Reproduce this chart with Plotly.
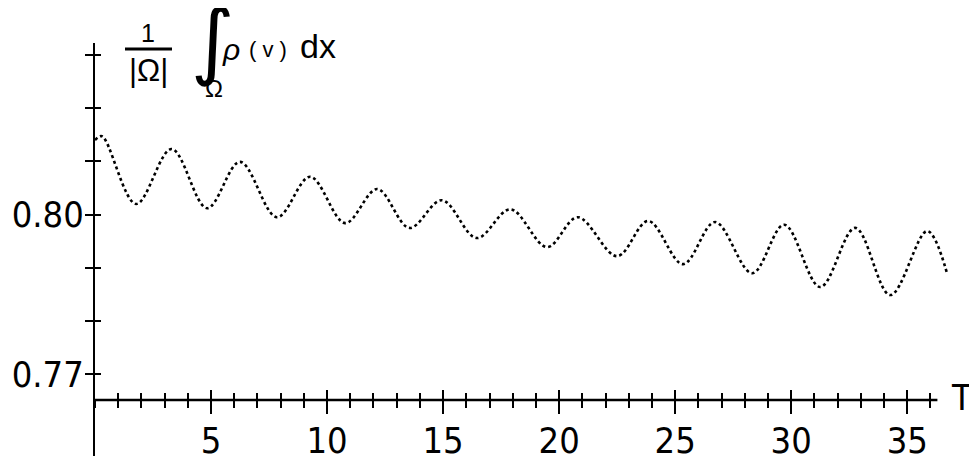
import plotly.graph_objects as go

# ---- data ----
t_values = [0.0, 0.3, 1.77, 3.3, 4.83, 6.25, 7.84, 9.27, 10.78, 12.16, 13.55, 14.95,
            16.45, 17.9, 19.48, 20.8, 22.5, 23.84, 25.34, 26.72, 28.32, 29.7, 31.25,
            32.76, 34.27, 35.86, 36.72]
rho_mean = [0.8140, 0.8147, 0.8020, 0.8123, 0.8012, 0.8099, 0.7995, 0.8071, 0.7984,
            0.8048, 0.7975, 0.8027, 0.7956, 0.8010, 0.7939, 0.7995, 0.7922, 0.7988,
            0.7907, 0.7986, 0.7890, 0.7981, 0.7864, 0.7975, 0.7849, 0.7969, 0.7889]

y_tick_vals = [0.77, 0.78, 0.79, 0.80, 0.81, 0.82, 0.83]
y_tick_text = ["0.77", "", "", "0.80", "", "", ""]
x_tick_vals = [5, 10, 15, 20, 25, 30, 35]
x_tick_text = ["5", "10", "15", "20", "25", "30", "35"]

# ---- layout geometry (page has an 8px body offset) ----
OFF = 8
W, H = 977, 462
PLOT_L, PLOT_R, PLOT_T, PLOT_B = 95, 949, 43, 456   # wanted positions on screen
L = PLOT_L - OFF
T = PLOT_T - OFF
R = W - (PLOT_R - OFF)
B = H - (PLOT_B - OFF)
X_RANGE = [0, 36.8]
Y_RANGE = [0.7547, 0.8322]
XAXIS_POS = (PLOT_B - 400) / (PLOT_B - PLOT_T)
AXIS_END = 36.3

NARROW = "Liberation Sans Narrow, DejaVu Sans Condensed, Arial Narrow, Liberation Sans, sans-serif"
SANS = "Liberation Sans, Arial, sans-serif"

def PX(x):
    return (x - PLOT_L) / (PLOT_R - PLOT_L)

def PY(y):
    return (PLOT_B - y) / (PLOT_B - PLOT_T)

fig = go.Figure()
fig.add_trace(go.Scatter(
    x=t_values, y=rho_mean, mode="lines",
    line=dict(color="black", width=2.6, dash="dot", shape="spline", smoothing=1.0),
    showlegend=False, hoverinfo="skip",
))
# invisible helper trace so that the overlay axes (crossing ticks) are drawn
fig.add_trace(go.Scatter(x=[t_values[0]], y=[rho_mean[0]], xaxis="x2", yaxis="y2",
                         mode="markers", marker=dict(opacity=0), showlegend=False,
                         hoverinfo="skip"))

tickfont = dict(family=NARROW, size=36, color="black")

fig.update_layout(
    width=W, height=H, autosize=False,
    margin=dict(l=L, r=R, t=T, b=B, pad=0),
    paper_bgcolor="white", plot_bgcolor="white",
    xaxis=dict(
        range=X_RANGE, anchor="free", position=XAXIS_POS, automargin=False,
        showline=False, showgrid=False, zeroline=False,
        tickmode="array", tickvals=x_tick_vals, ticktext=x_tick_text,
        ticks="outside", ticklen=13, tickwidth=2, tickcolor="black",
        ticklabelstandoff=-4,
        minor=dict(tickmode="linear", tick0=0, dtick=1, ticks="outside",
                   ticklen=7, tickwidth=2, tickcolor="black", showgrid=False),
        tickfont=tickfont,
    ),
    xaxis2=dict(
        range=X_RANGE, overlaying="x", anchor="free", position=XAXIS_POS, automargin=False,
        showline=False, showgrid=False, zeroline=False,
        tickmode="array", tickvals=x_tick_vals, showticklabels=False,
        ticks="inside", ticklen=10, tickwidth=2, tickcolor="black",
        minor=dict(tickmode="linear", tick0=0, dtick=1, ticks="inside",
                   ticklen=7, tickwidth=2, tickcolor="black", showgrid=False),
    ),
    yaxis=dict(
        range=Y_RANGE, anchor="x", side="left", automargin=False,
        showline=True, linewidth=2, linecolor="black",
        showgrid=False, zeroline=False,
        tickmode="array", tickvals=y_tick_vals, ticktext=y_tick_text,
        ticks="outside", ticklen=8, tickwidth=2, tickcolor="black",
        ticklabelstandoff=-6,
        tickfont=tickfont,
    ),
    yaxis2=dict(
        range=Y_RANGE, overlaying="y", anchor="x2", side="left", automargin=False,
        showline=False, showgrid=False, zeroline=False,
        tickmode="array", tickvals=y_tick_vals, showticklabels=False,
        ticks="inside", ticklen=6, tickwidth=2, tickcolor="black",
    ),
)

# x-axis line
fig.add_shape(type="line", xref="x", yref="paper", x0=0, x1=AXIS_END,
              y0=XAXIS_POS, y1=XAXIS_POS, line=dict(color="black", width=2.5))

# axis label T
fig.add_annotation(text="T", xref="paper", yref="paper", x=PX(961), y=PY(397),
                   xanchor="center", yanchor="middle", showarrow=False,
                   font=dict(family=NARROW, size=36, color="black"))

# y-axis label: (1/|Ω|) ∫_Ω ρ(v) dx
def ann(text, x, y, size, family=SANS, **kw):
    fig.add_annotation(text=text, xref="paper", yref="paper", x=PX(x), y=PY(y),
                       xanchor="center", yanchor="middle", showarrow=False,
                       font=dict(family=family, size=size, color="black", **kw))

ann("1", 148, 33, 25)
fig.add_shape(type="line", xref="paper", yref="paper", x0=PX(125), x1=PX(172),
              y0=PY(49), y1=PY(49), line=dict(color="black", width=3))
ann("|Ω|", 148, 70, 31)
ann("∫", 213, 40, 84, family="DejaVu Sans")
ann("Ω", 214, 88, 24)
ann("ρ", 231, 50, 30, style="italic")
ann("( v )", 268, 50, 22)
ann("dx", 318, 46, 34)

fig.write_html("out.html")
